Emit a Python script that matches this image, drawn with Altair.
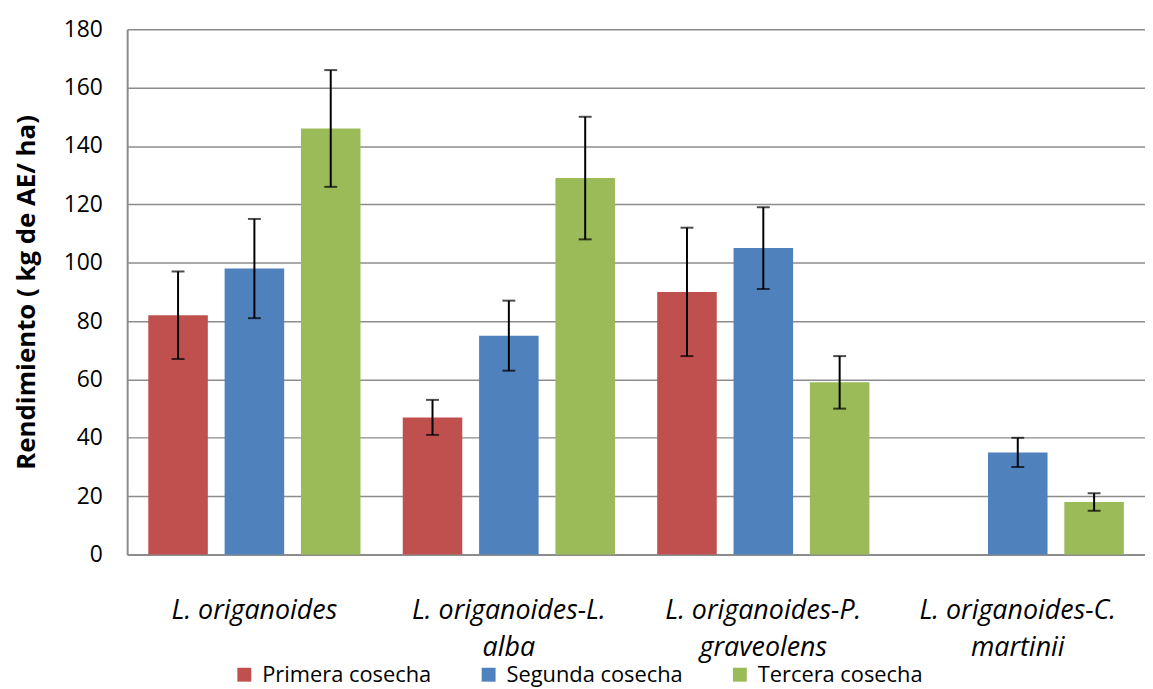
import altair as alt
import pandas as pd

categories = ["L. origanoides", "L. origanoides-L. alba", "L. origanoides-P. graveolens", "L. origanoides-C. martinii"]
series = ["Primera cosecha", "Segunda cosecha", "Tercera cosecha"]
colors = ["#C0504D", "#4F81BD", "#9BBB59"]

primera = [82, 47, 90, None]
segunda = [98, 75, 105, 35]
tercera = [146, 129, 59, 18]

primera_lo = [67, 41, 68, None]
primera_hi = [97, 53, 112, None]
segunda_lo = [81, 63, 91, 30]
segunda_hi = [115, 87, 119, 40]
tercera_lo = [126, 108, 50, 15]
tercera_hi = [166, 150, 68, 21]

rows = []
for s, vals, los, his in [
    (series[0], primera, primera_lo, primera_hi),
    (series[1], segunda, segunda_lo, segunda_hi),
    (series[2], tercera, tercera_lo, tercera_hi),
]:
    for c, v, lo, hi in zip(categories, vals, los, his):
        if v is None:
            continue
        rows.append({"cat": c, "serie": s, "val": v, "lo": lo, "hi": hi})
df = pd.DataFrame(rows)

FONT = "Open Sans"

label_expr = ("datum.value == 'L. origanoides' ? datum.value : "
              "[slice(datum.value, 0, lastindexof(datum.value, ' ')), "
              "slice(datum.value, lastindexof(datum.value, ' ') + 1)]")

x = alt.X("cat:N", sort=categories, title=None,
          scale=alt.Scale(paddingInner=0.1, paddingOuter=0.05),
          axis=alt.Axis(labelAngle=0, labelFont=FONT, labelFontStyle="italic",
                        labelFontSize=27, labelColor="#000", labelPadding=43,
                        labelLineHeight=38, labelExpr=label_expr, ticks=False,
                        domain=True, domainColor="#8c8c8c", domainWidth=2,
                        grid=False, labelLimit=400))
xoff = alt.XOffset("serie:N", sort=series,
                   scale=alt.Scale(paddingInner=0.22, paddingOuter=0.11))

base = alt.Chart(df)

bars = base.mark_bar().encode(
    x=x,
    xOffset=xoff,
    y=alt.Y("val:Q", title="Rendimiento ( kg de AE/ ha)",
            scale=alt.Scale(domain=[0, 180], nice=False),
            axis=alt.Axis(values=list(range(0, 181, 20)), labelFont=FONT,
                          labelFontSize=23, labelColor="#000", labelPadding=25,
                          ticks=False, domainColor="#8c8c8c", domainWidth=2,
                          gridColor="#8c8c8c", gridWidth=1.5,
                          titleFont=FONT, titleFontSize=26, titleFontWeight="bold",
                          titleColor="#000", titlePadding=24)),
    color=alt.Color("serie:N", sort=series,
                    scale=alt.Scale(domain=series, range=colors),
                    legend=alt.Legend(title=None, orient="none", direction="horizontal",
                                      legendX=107, legendY=639, columns=3,
                                      symbolType="square", symbolSize=196,
                                      symbolStrokeWidth=0, labelFont=FONT,
                                      labelFontSize=22, labelColor="#000",
                                      labelLimit=300,
                                      columnPadding=46, labelOffset=7)),
)

rules = base.mark_rule(color="#000", strokeWidth=2).encode(
    x=alt.X("cat:N", sort=categories), xOffset=xoff,
    y="lo:Q", y2="hi:Q")
cap_lo = base.mark_tick(color="#000", thickness=2, size=13, orient="horizontal").encode(
    x=alt.X("cat:N", sort=categories), xOffset=xoff, y="lo:Q")
cap_hi = base.mark_tick(color="#000", thickness=2, size=13, orient="horizontal").encode(
    x=alt.X("cat:N", sort=categories), xOffset=xoff, y="hi:Q")

chart = alt.layer(bars, rules, cap_lo, cap_hi).properties(
    width=1025, height=529,
    background="white",
    autosize=alt.AutoSizeParams(type="none"),
    padding={"left": 120, "top": 19, "right": 0, "bottom": 133},
).configure_view(stroke=None)

chart.save("out.html", embed_options={"renderer": "svg", "actions": False})
